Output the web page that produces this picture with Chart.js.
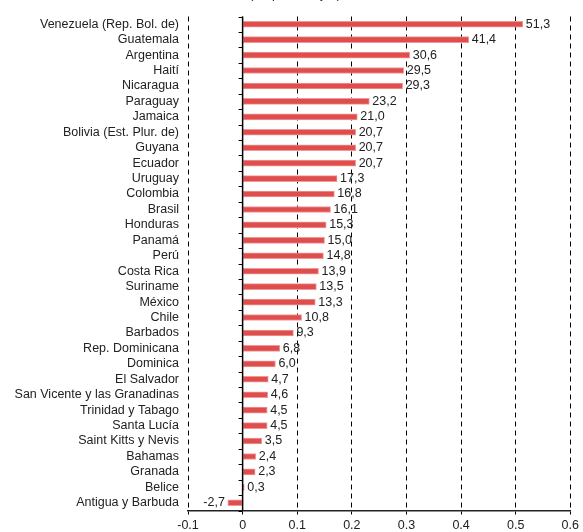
<!DOCTYPE html>
<html>
<head>
<meta charset="utf-8">
<script src="https://cdn.jsdelivr.net/npm/chart.js@4/dist/chart.umd.min.js"></script>
<style>
  html, body { margin: 0; padding: 0; background: #fff; }
  #wrap { width: 583px; height: 532px; position: relative; }
</style>
</head>
<body>
<div id="wrap"><canvas id="c" width="583" height="532"></canvas></div>
<script>
const countries = [
  "Venezuela (Rep. Bol. de)", "Guatemala", "Argentina", "Haití", "Nicaragua",
  "Paraguay", "Jamaica", "Bolivia (Est. Plur. de)", "Guyana", "Ecuador",
  "Uruguay", "Colombia", "Brasil", "Honduras", "Panamá", "Perú", "Costa Rica",
  "Suriname", "México", "Chile", "Barbados", "Rep. Dominicana", "Dominica",
  "El Salvador", "San Vicente y las Granadinas", "Trinidad y Tabago",
  "Santa Lucía", "Saint Kitts y Nevis", "Bahamas", "Granada", "Belice",
  "Antigua y Barbuda"
];
const percentValues = [
  51.3, 41.4, 30.6, 29.5, 29.3, 23.2, 21.0, 20.7, 20.7, 20.7,
  17.3, 16.8, 16.1, 15.3, 15.0, 14.8, 13.9, 13.5, 13.3, 10.8,
  9.3, 6.8, 6.0, 4.7, 4.6, 4.5, 4.5, 3.5, 2.4, 2.3, 0.3, -2.7
];
const xTicks = [-0.1, 0, 0.1, 0.2, 0.3, 0.4, 0.5, 0.6];
const titleText = "(En porcentajes)";

const FONT = '"Liberation Sans", Arial, Helvetica, sans-serif';

const decorPlugin = {
  id: 'decor',
  afterDatasetsDraw(chart) {
    const {ctx, chartArea, scales} = chart;
    const xs = scales.x, ys = scales.y;
    const x0 = xs.getPixelForValue(0);
    ctx.save();
    // zero line
    ctx.strokeStyle = '#000';
    ctx.lineWidth = 1.5;
    ctx.beginPath();
    ctx.moveTo(x0, chartArea.top);
    ctx.lineTo(x0, chartArea.bottom);
    ctx.stroke();
    // category boundary tick marks
    const band = ys.getPixelForValue(1) - ys.getPixelForValue(0);
    ctx.lineWidth = 1;
    for (let i = 0; i <= countries.length; i++) {
      const y = Math.round(ys.getPixelForValue(i) - band / 2) + 0.5;
      ctx.beginPath();
      ctx.moveTo(x0 - 4, y);
      ctx.lineTo(x0, y);
      ctx.stroke();
    }
    // data labels
    const meta = chart.getDatasetMeta(0);
    ctx.font = '12.5px ' + FONT;
    ctx.fillStyle = '#222';
    ctx.textBaseline = 'middle';
    meta.data.forEach((el, i) => {
      const v = percentValues[i];
      const txt = v.toFixed(1).replace('.', ',');
      if (v >= 0) {
        ctx.textAlign = 'left';
        ctx.fillText(txt, el.x + 3, el.y);
      } else {
        ctx.textAlign = 'right';
        ctx.fillText(txt, el.x - 3, el.y);
      }
    });
    // cut-off title
    ctx.textAlign = 'center';
    ctx.textBaseline = 'alphabetic';
    ctx.fillText(titleText, 295, -2);
    ctx.restore();
  }
};

new Chart(document.getElementById('c'), {
  type: 'bar',
  data: {
    labels: countries,
    datasets: [{
      data: percentValues.map(v => v / 100),
      backgroundColor: '#E04D4D',
      borderColor: '#EE9A9A',
      borderWidth: 1,
      borderSkipped: false,
      barThickness: 6
    }]
  },
  options: {
    indexAxis: 'y',
    responsive: false,
    animation: false,
    devicePixelRatio: 1,
    layout: { padding: { top: 14.5, right: 11, bottom: 0, left: 0 } },
    plugins: {
      legend: { display: false },
      tooltip: { enabled: false },
      title: { display: false }
    },
    scales: {
      x: {
        type: 'linear',
        min: -0.1,
        max: 0.6,
        afterBuildTicks(scale) {
          scale.ticks = xTicks.map(v => ({ value: v }));
        },
        afterFit(scale) { scale.height = 21.5; },
        ticks: {
          color: '#222',
          font: { family: FONT, size: 12.5 },
          padding: 4,
          maxRotation: 0,
          callback: (v) => String(Math.round(v * 10) / 10)
        },
        grid: {
          color: '#000',
          lineWidth: 1,
          drawTicks: true,
          tickLength: 4,
          tickColor: '#000',
          tickWidth: 1
        },
        border: {
          display: true,
          color: '#222',
          width: 1.5,
          dash: [5, 4]
        }
      },
      y: {
        type: 'category',
        offset: true,
        afterFit(scale) { scale.width = 188; },
        ticks: {
          color: '#222',
          font: { family: FONT, size: 12.5 },
          padding: 9,
          autoSkip: false
        },
        grid: { display: false, drawTicks: false },
        border: { display: false }
      }
    }
  },
  plugins: [decorPlugin]
});
</script>
</body>
</html>
